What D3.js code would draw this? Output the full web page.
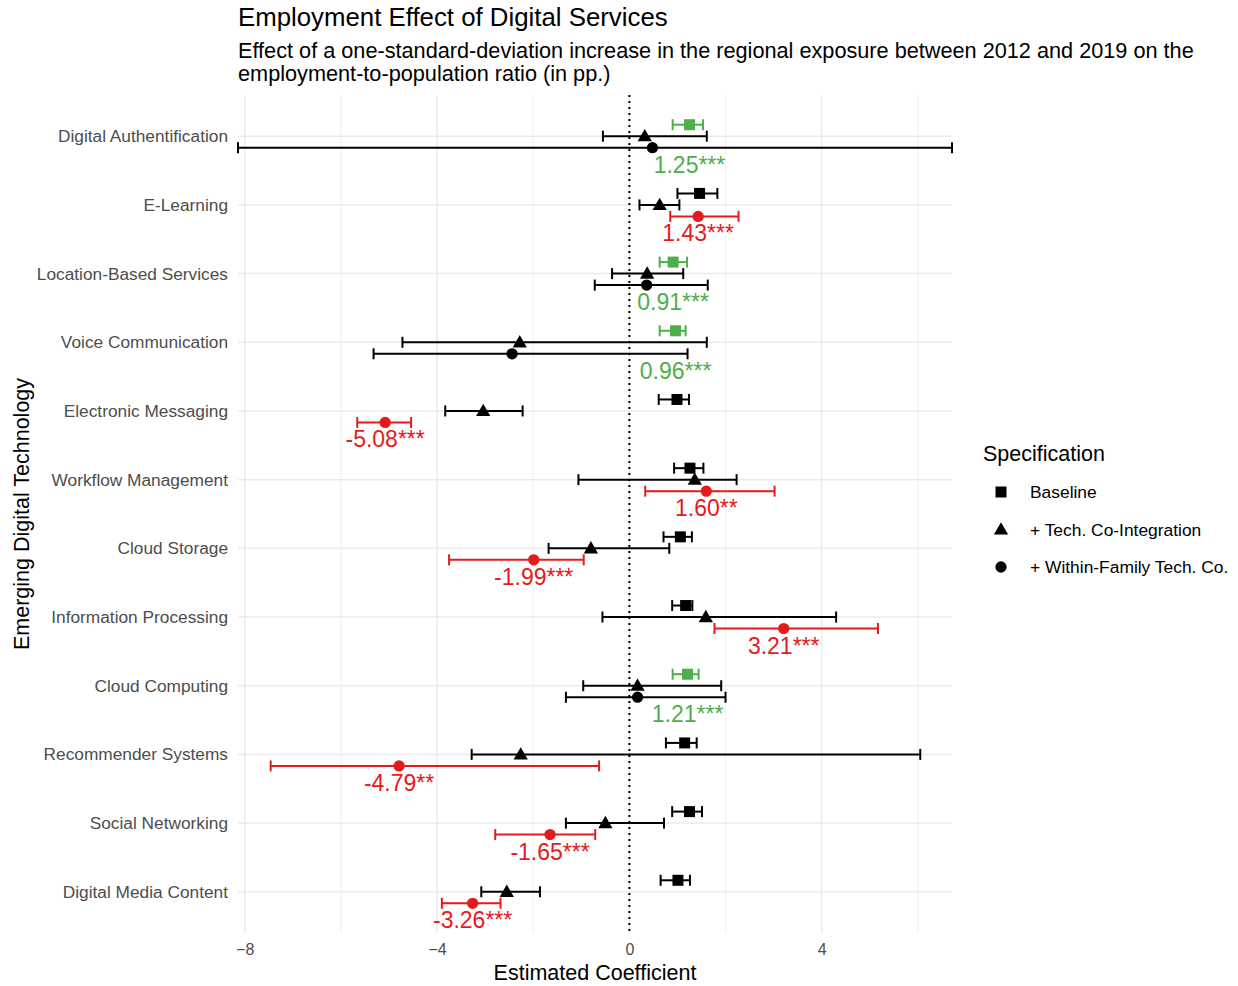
<!DOCTYPE html>
<html>
<head>
<meta charset="utf-8">
<script src="https://cdn.jsdelivr.net/npm/d3@7"></script>
<style>
  body { margin: 0; background: #fff; }
  svg text { font-family: "Liberation Sans", Arial, sans-serif; }
</style>
</head>
<body>
<svg id="chart" width="1238" height="986"></svg>
<script>
// categories, top to bottom
var categories = ["Digital Authentification", "E-Learning", "Location-Based Services",
    "Voice Communication", "Electronic Messaging", "Workflow Management", "Cloud Storage",
    "Information Processing", "Cloud Computing", "Recommender Systems", "Social Networking",
    "Digital Media Content"];

// Baseline
var baseEst = [1.25, 1.46, 0.91, 0.96, 0.99, 1.26, 1.06, 1.17, 1.21, 1.15, 1.25, 1.01];
var baseLo  = [0.90, 1.00, 0.63, 0.63, 0.61, 0.93, 0.71, 0.89, 0.90, 0.76, 0.89, 0.65];
var baseHi  = [1.53, 1.83, 1.20, 1.17, 1.24, 1.54, 1.30, 1.31, 1.44, 1.40, 1.51, 1.26];

// + Tech. Co-Integration
var coEst = [0.32, 0.63, 0.37, -2.28, -3.04, 1.36, -0.80, 1.59, 0.17, -2.26, -0.50, -2.55];
var coLo  = [-0.55, 0.21, -0.36, -4.72, -3.83, -1.06, -1.68, -0.56, -0.96, -3.28, -1.32, -3.08];
var coHi  = [1.61, 1.04, 1.12, 1.61, -2.22, 2.23, 0.83, 4.30, 1.91, 6.05, 0.72, -1.86];

// + Within-Family Tech. Co.
var wfEst = [0.48, 1.43, 0.36, -2.44, -5.08, 1.60, -1.99, 3.21, 0.17, -4.79, -1.65, -3.26];
var wfLo  = [-8.14, 0.85, -0.72, -5.32, -5.66, 0.33, -3.75, 1.77, -1.32, -7.46, -2.79, -3.90];
var wfHi  = [6.71, 2.27, 1.63, 1.21, -4.54, 3.02, -0.95, 5.17, 2.00, -0.63, -0.71, -2.68];

// which specification is highlighted + its significance stars
var highlight = ["base", "wf", "base", "base", "wf", "wf", "wf", "wf", "base", "wf", "wf", "wf"];
var stars = ["***", "***", "***", "***", "***", "**", "***", "***", "***", "**", "***", "***"];

var specs = ["base", "co", "wf"];
var specNames = ["Baseline", "+ Tech. Co-Integration", "+ Within-Family Tech. Co."];
var xTicks = [-8, -4, 0, 4];
var xMinor = [-6, -2, 2, 6];

var hlColor = { base: "#4DAF4A", wf: "#E41A1C" };

var svg = d3.select("#chart");
svg.append("rect").attr("width", 1238).attr("height", 986).attr("fill", "#fff");

var x = d3.scaleLinear().domain([-8.14, 6.71]).range([238, 952]);
var y = d3.scalePoint().domain(categories).range([95, 933]).padding(0.6);
var dodge = d3.scalePoint().domain(specs).range([-11.5, 11.5]);

// grid
var grid = svg.append("g");
grid.selectAll(".minor").data(xMinor).enter().append("line")
    .attr("x1", d => x(d)).attr("x2", d => x(d)).attr("y1", 95).attr("y2", 933)
    .attr("stroke", "#ebebeb").attr("stroke-width", 0.8);
grid.selectAll(".major").data(xTicks).enter().append("line")
    .attr("x1", d => x(d)).attr("x2", d => x(d)).attr("y1", 95).attr("y2", 933)
    .attr("stroke", "#ebebeb").attr("stroke-width", 1.5);
grid.selectAll(".hmaj").data(categories).enter().append("line")
    .attr("x1", 238).attr("x2", 952).attr("y1", d => y(d)).attr("y2", d => y(d))
    .attr("stroke", "#ebebeb").attr("stroke-width", 1.5);

// zero line
svg.append("line")
    .attr("x1", x(0)).attr("x2", x(0)).attr("y1", 95).attr("y2", 933)
    .attr("stroke", "#000").attr("stroke-width", 2)
    .attr("stroke-dasharray", "2,4");

// flatten rows
var rows = [];
categories.forEach(function(c, i) {
    var est = { base: baseEst[i], co: coEst[i], wf: wfEst[i] };
    var lo = { base: baseLo[i], co: coLo[i], wf: wfLo[i] };
    var hi = { base: baseHi[i], co: coHi[i], wf: wfHi[i] };
    specs.forEach(function(s) {
        rows.push({
            cat: c, spec: s, est: est[s], lo: lo[s], hi: hi[s],
            color: highlight[i] == s ? hlColor[s] : "#000"
        });
    });
});

var cap = 5.5;
var bars = svg.append("g").selectAll("g").data(rows).enter().append("g")
    .attr("stroke", d => d.color).attr("stroke-width", 2).attr("fill", "none");
bars.append("line")
    .attr("x1", d => x(d.lo)).attr("x2", d => x(d.hi))
    .attr("y1", d => y(d.cat) + dodge(d.spec)).attr("y2", d => y(d.cat) + dodge(d.spec));
bars.append("line")
    .attr("x1", d => x(d.lo)).attr("x2", d => x(d.lo))
    .attr("y1", d => y(d.cat) + dodge(d.spec) - cap).attr("y2", d => y(d.cat) + dodge(d.spec) + cap);
bars.append("line")
    .attr("x1", d => x(d.hi)).attr("x2", d => x(d.hi))
    .attr("y1", d => y(d.cat) + dodge(d.spec) - cap).attr("y2", d => y(d.cat) + dodge(d.spec) + cap);

function shape(spec) {
    if (spec == "base") return d3.symbol().type(d3.symbolSquare).size(121)();
    if (spec == "co") return d3.symbol().type(d3.symbolTriangle).size(88)();
    return d3.symbol().type(d3.symbolCircle).size(100)();
}

svg.append("g").selectAll("path").data(rows).enter().append("path")
    .attr("d", d => shape(d.spec))
    .attr("transform", d => "translate(" + x(d.est) + "," + (y(d.cat) + dodge(d.spec) + (d.spec == "co" ? 1 : 0)) + ")")
    .attr("fill", d => d.color);

// value labels (below the circle row)
svg.append("g").selectAll("text").data(categories).enter().append("text")
    .attr("x", function(d, i) { return x(highlight[i] == "base" ? baseEst[i] : wfEst[i]); })
    .attr("y", d => y(d) + dodge("wf") + 17)
    .attr("text-anchor", "middle")
    .attr("dominant-baseline", "central")
    .style("font-size", "23px")
    .attr("fill", (d, i) => hlColor[highlight[i]])
    .text(function(d, i) {
        var v = highlight[i] == "base" ? baseEst[i] : wfEst[i];
        return v.toFixed(2) + stars[i];
    });

// axes
var xAxis = svg.append("g").attr("transform", "translate(0,933)")
    .call(d3.axisBottom(x).tickValues(xTicks).tickSize(0).tickPadding(11).tickFormat(d3.format("d")));
xAxis.select(".domain").remove();
xAxis.selectAll("text").style("font-size", "16px").attr("fill", "#4d4d4d")
    .style("font-family", "Liberation Sans, Arial, sans-serif");

var yAxis = svg.append("g").attr("transform", "translate(238,0)")
    .call(d3.axisLeft(y).tickSize(0).tickPadding(10));
yAxis.select(".domain").remove();
yAxis.selectAll("text").style("font-size", "17.3px").attr("fill", "#4d4d4d")
    .style("font-family", "Liberation Sans, Arial, sans-serif");

svg.append("text").attr("x", 595).attr("y", 980).attr("text-anchor", "middle")
    .style("font-size", "21.5px").attr("fill", "#000").text("Estimated Coefficient");
svg.append("text").attr("transform", "translate(29,514) rotate(-90)").attr("text-anchor", "middle")
    .style("font-size", "21.5px").attr("fill", "#000").text("Emerging Digital Technology");

// titles
svg.append("text").attr("x", 238).attr("y", 26).style("font-size", "25.8px").attr("fill", "#000")
    .text("Employment Effect of Digital Services");
svg.append("text").attr("x", 238).attr("y", 58).style("font-size", "21.7px").attr("fill", "#000")
    .text("Effect of a one-standard-deviation increase in the regional exposure between 2012 and 2019 on the");
svg.append("text").attr("x", 238).attr("y", 81).style("font-size", "21.7px").attr("fill", "#000")
    .text("employment-to-population ratio (in pp.)");

// legend
var leg = svg.append("g");
leg.append("text").attr("x", 983).attr("y", 461).style("font-size", "21.5px").attr("fill", "#000")
    .text("Specification");
var legItems = leg.selectAll("g").data(specs).enter().append("g")
    .attr("transform", (d, i) => "translate(0," + (492 + i * 37.5) + ")");
legItems.append("path")
    .attr("d", d => shape(d))
    .attr("transform", d => "translate(1001," + (d == "co" ? 1 : 0) + ")")
    .attr("fill", "#000");
legItems.append("text").attr("x", 1030).attr("dominant-baseline", "central")
    .style("font-size", "17.4px").attr("fill", "#000")
    .text((d, i) => specNames[i]);
</script>
</body>
</html>
